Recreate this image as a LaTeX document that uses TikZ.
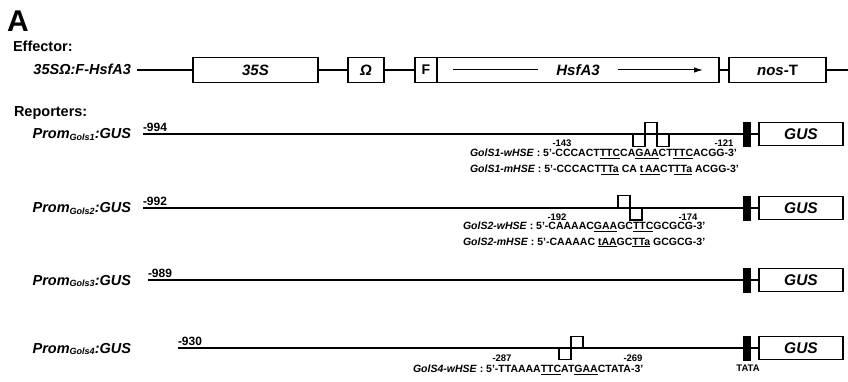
\documentclass[tikz,border=0pt]{standalone}
\usepackage{fontspec}
\setmainfont{Liberation Sans}
\usetikzlibrary{arrows.meta}
\newcommand\fLab{\fontsize{14.5}{14.5}\selectfont\bfseries}
\newcommand\fSeq{\fontsize{10.5}{10.5}\selectfont\bfseries}
\newcommand\fNum{\fontsize{9.5}{9.5}\selectfont\bfseries}
\newcommand\fStart{\fontsize{12}{12}\selectfont\bfseries}
\newcommand\fSub{\fontsize{9}{9}\selectfont\bfseries\itshape}
\newcommand\promlab[1]{\textit{Prom\raisebox{-1.8pt}{\fSub Gols#1}:GUS}}
\begin{document}
\begin{tikzpicture}[x=1pt,y=-1pt,
  txt/.style={inner sep=0pt, outer sep=0pt},
  gbox/.style={draw, line width=1.3pt, fill=white, inner sep=0pt, minimum height=24.5pt,
    font=\fontsize{15}{15}\selectfont\bfseries\itshape},
  gusbox/.style={draw, line width=1.3pt, fill=white, inner sep=0pt, minimum height=23pt, minimum width=84pt,
    font=\fontsize{15.5}{15.5}\selectfont\bfseries\itshape},
  tatabar/.style={draw, fill=black, line width=0.5pt, inner sep=0pt, minimum width=6.5pt, minimum height=24pt},
  effline/.style={line width=1.5pt},
  rline/.style={line width=1.6pt},
  hse/.style={line width=1.4pt},
  seqtxt/.style={txt, anchor=base west, font=\fSeq},
  numtxt/.style={txt, anchor=base, font=\fNum},
  starttxt/.style={txt, anchor=base west, font=\fStart},
  rowlab/.style={txt, anchor=base east, font=\fLab}
]
\useasboundingbox (0,0) rectangle (848,382);

% headings
\node[txt, anchor=base west, font=\fontsize{30}{30}\selectfont\bfseries] (A) at (7,32) {A};
\node[txt, anchor=base west, font=\fLab] (eff) at (13,52) {Effector:};
\node[txt, anchor=base west, font=\fLab] (rep) at (14,117) {Reporters:};

% effector construct
\node[rowlab] (efflab) at (131,75) {\textit{35SΩ:F-HsfA3}};
\coordinate (effs) at (137,70);
\coordinate (effe) at (848,70);
\node[gbox, minimum width=125pt] (s35) at (255.5,70) {35S};
\node[gbox, minimum width=36pt] (om) at (366,70) {Ω};
\node[gbox, minimum width=22pt, font=\fontsize{14}{14}\selectfont\bfseries] (fl) at (426,70) {F};
\node[gbox, minimum width=282pt] (hsf) at (578,70) {HsfA3};
\node[gbox, minimum width=97pt] (nos) at (777.5,70) {nos\textup{-T}};
\draw[effline] (effs) -- (s35.west);
\draw[effline] (s35.east) -- (om.west);
\draw[effline] (om.east) -- (fl.west);
\draw[effline] (hsf.east) -- (nos.west);
\draw[effline] (nos.east) -- (effe);
\coordinate (ha1) at (453,70);
\coordinate (ha2) at (538,70);
\coordinate (ha3) at (618,70);
\coordinate (ha4) at (703,70);
\draw[line width=1pt] (ha1) -- (ha2);
\draw[line width=1pt, -{Latex[length=9pt,width=5.5pt]}] (ha3) -- (ha4);

% ---------- reporter 1
\node[rowlab] (l1) at (131,138.5) {\promlab{1}};
\coordinate (r1s) at (143,134);
\node[tatabar] (t1) at (746.5,134) {};
\node[gusbox] (g1) at (801,134) {GUS};
\draw[rline] (r1s) -- (t1.west);
\draw[rline] (t1.east) -- (g1.west);
\node[starttxt] (n1) at (143,131.5) {-994};
\draw[hse] (633,134) rectangle (645,146.5);
\draw[hse] (645,122.5) rectangle (657,134);
\draw[hse] (657,134) rectangle (669,146.5);
\node[numtxt] (p1a) at (562,147) {-143};
\node[numtxt] (p1b) at (724,147) {-121};
\node[seqtxt] (s1w) at (470,157) {\textit{GolS1-wHSE} : 5'-CCCACT\underline{TTC}CA\underline{GAA}CT\underline{TTC}ACGG-3'};
\node[seqtxt] (s1m) at (470,172.5) {\textit{GolS1-mHSE} : 5'-CCCACT\underline{TTa} CA \underline{t\,AA}CT\underline{TTa} ACGG-3'};

% ---------- reporter 2
\node[rowlab] (l2) at (131,212.5) {\promlab{2}};
\coordinate (r2s) at (143,208);
\node[tatabar] (t2) at (746.5,208) {};
\node[gusbox] (g2) at (801,208) {GUS};
\draw[rline] (r2s) -- (t2.west);
\draw[rline] (t2.east) -- (g2.west);
\node[starttxt] (n2) at (143,205.5) {-992};
\draw[hse] (618,195.5) rectangle (630,208);
\draw[hse] (630,208) rectangle (642,220);
\node[numtxt] (p2a) at (557,220) {-192};
\node[numtxt] (p2b) at (688,220) {-174};
\node[seqtxt] (s2w) at (463,229.5) {\textit{GolS2-wHSE} : 5'-CAAAAC\underline{GAA}GC\underline{TTC}GCGCG-3'};
\node[seqtxt] (s2m) at (463,245) {\textit{GolS2-mHSE} : 5'-CAAAAC \underline{tAA}GC\underline{TTa} GCGCG-3'};

% ---------- reporter 3
\node[rowlab] (l3) at (131,285) {\promlab{3}};
\coordinate (r3s) at (148,280);
\node[tatabar] (t3) at (746.5,280) {};
\node[gusbox] (g3) at (801,280) {GUS};
\draw[rline] (r3s) -- (t3.west);
\draw[rline] (t3.east) -- (g3.west);
\node[starttxt] (n3) at (148,277.5) {-989};

% ---------- reporter 4
\node[rowlab] (l4) at (131,353) {\promlab{4}};
\coordinate (r4s) at (178,348);
\node[tatabar] (t4) at (746.5,348) {};
\node[gusbox] (g4) at (801,348) {GUS};
\draw[rline] (r4s) -- (t4.west);
\draw[rline] (t4.east) -- (g4.west);
\node[starttxt] (n4) at (178,345.5) {-930};
\draw[hse] (559,348) rectangle (571,359.5);
\draw[hse] (571,336.5) rectangle (583,348);
\node[numtxt] (p4a) at (502,361) {-287};
\node[numtxt] (p4b) at (633,361) {-269};
\node[seqtxt] (s4w) at (413,372.5) {\textit{GolS4-wHSE} : 5'-TTAAAA\underline{TTC}AT\underline{GAA}CTATA-3'};
\node[numtxt] (tata) at (748,371) {TATA};
\end{tikzpicture}
\end{document}
